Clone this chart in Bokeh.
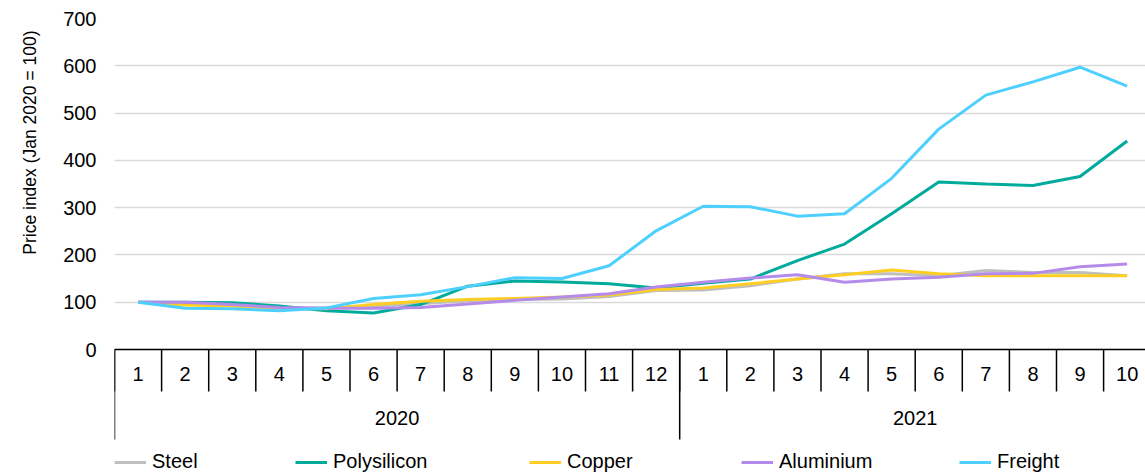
from bokeh.plotting import figure
from bokeh.models import FixedTicker, Range1d, Legend, LegendItem, Title, Span
from bokeh.core.properties import value
from bokeh.embed import file_html
from bokeh.resources import INLINE

# ---- data ----
month_labels = ["1", "2", "3", "4", "5", "6", "7", "8", "9", "10", "11", "12",
                "1", "2", "3", "4", "5", "6", "7", "8", "9", "10"]
year_labels = ["2020", "2021"]
year_sizes = [12, 10]
y_ticks = [0, 100, 200, 300, 400, 500, 600, 700]

steel = [100, 97, 93, 88, 88, 92, 97, 103, 106, 107, 112, 125,
         126, 135, 149, 160, 160, 156, 167, 163, 163, 156]
polysilicon = [100, 100, 99, 92, 82, 77, 95, 134, 145, 143, 139, 130,
               140, 149, 188, 223, 287, 354, 350, 347, 366, 441]
copper = [100, 94, 92, 87, 86, 95, 102, 106, 108, 111, 115, 127,
          130, 139, 149, 158, 168, 160, 156, 156, 156, 156]
aluminium = [100, 100, 95, 89, 87, 87, 89, 96, 104, 111, 118, 132,
             142, 151, 158, 142, 149, 153, 160, 161, 175, 181]
freight = [100, 87, 86, 82, 88, 108, 116, 133, 152, 150, 177, 251,
           303, 302, 282, 287, 362, 466, 538, 566, 597, 557]

series = [("Steel", steel, "#BFBFBF"),
          ("Polysilicon", polysilicon, "#00AB9C"),
          ("Copper", copper, "#FFCE22"),
          ("Aluminium", aluminium, "#B48BEA"),
          ("Freight", freight, "#4ED0FF")]

# ---- layout constants (pixels) ----
W, H = 1145, 473
FRAME_LEFT, FRAME_TOP, ZERO_Y = 114, 18, 349
CAT_W = 47.1
FONT = "Liberation Sans"
FS = "20px"
LEGEND_X = [114, 295, 529, 741, 959]   # left edge of each legend entry (px)

K = (ZERO_Y - FRAME_TOP) / max(y_ticks)          # px per y unit
y_start = -(H - ZERO_Y) / K
x_end = (W - FRAME_LEFT) / CAT_W

n = len(month_labels)
centers = [i + 0.5 for i in range(n)]
boundaries = [float(i) for i in range(n + 1)]
year_starts = [sum(year_sizes[:k]) for k in range(len(year_sizes))]
year_centers = [s + sz / 2 for s, sz in zip(year_starts, year_sizes)]
year_bounds = [float(s) for s in year_starts] + [float(sum(year_sizes))]

p = figure(width=W, height=H, output_backend="svg", toolbar_location=None,
           x_range=Range1d(0, x_end), y_range=Range1d(y_start, max(y_ticks)),
           x_axis_location=None,
           min_border_left=FRAME_LEFT, min_border_right=0, min_border_top=FRAME_TOP,
           min_border_bottom=0)
p.outline_line_color = None
p.xgrid.visible = False
p.ygrid.grid_line_color = "#D9D9D9"
p.ygrid.grid_line_width = 1.5

# y axis
ya = p.yaxis[0]
ya.ticker = FixedTicker(ticks=y_ticks, minor_ticks=[])
ya.axis_line_color = None
ya.major_tick_in = 0
ya.major_tick_out = 0
ya.minor_tick_in = 0
ya.minor_tick_out = 0
ya.major_label_standoff = 18
ya.major_label_text_font = FONT
ya.major_label_text_font_size = FS
ya.major_label_text_color = "#000000"

ytitle = Title(text="Price index (Jan 2020 = 100)", align="right", offset=12,
               vertical_align="top", standoff=38, text_font=FONT,
               text_font_size="17.5px", text_font_style="normal",
               text_color="#000000")
p.add_layout(ytitle, "left")

# category axis drawn in data space below zero
p.add_layout(Span(location=0, dimension="width", line_color="#000000", line_width=1.5))
month_tick = 42 / K
year_tick = 90 / K
p.segment(x0=boundaries, y0=[0] * len(boundaries), x1=boundaries,
          y1=[-month_tick] * len(boundaries), line_color="#000000", line_width=1.5)
p.segment(x0=year_bounds, y0=[0] * len(year_bounds), x1=year_bounds,
          y1=[-year_tick] * len(year_bounds), line_color="#000000", line_width=1.5)
p.text(x=centers, y=[-24 / K] * n, text=month_labels, text_font=value(FONT),
       text_font_size=value(FS), text_color="#000000", text_align="center",
       text_baseline="middle")
p.text(x=year_centers, y=[-68 / K] * len(year_centers), text=year_labels,
       text_font=value(FONT), text_font_size=value(FS), text_color="#000000",
       text_align="center", text_baseline="middle")

for (name, vals, color), lx in zip(series, LEGEND_X):
    r = p.line(x=centers, y=vals, line_color=color, line_width=3)
    lg = Legend(items=[LegendItem(label=name, renderers=[r])],
                orientation="horizontal", location=(lx - FRAME_LEFT, 0),
                margin=0, padding=0, glyph_width=32, glyph_height=20,
                label_standoff=6, label_text_font=FONT, label_text_font_size=FS,
                label_text_color="#000000", border_line_color=None,
                background_fill_alpha=0)
    p.add_layout(lg)

open("out.html", "w").write(file_html(p, INLINE))
